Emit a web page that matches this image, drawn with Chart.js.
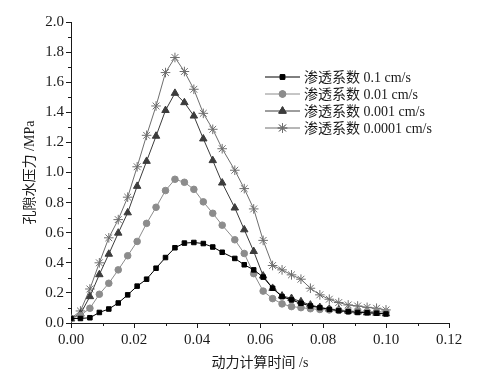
<!DOCTYPE html>
<html>
<head>
<meta charset="utf-8">
<script src="https://cdn.jsdelivr.net/npm/chart.js@4/dist/chart.umd.min.js"></script>
<style>
  html, body { margin: 0; padding: 0; background: #fff; }
  #wrap { width: 486px; height: 377px; }
</style>
</head>
<body>
<div id="wrap"><canvas id="pore"></canvas></div>
<script>
// time steps (s)
var times = [0, 0.003, 0.006, 0.009, 0.012, 0.015, 0.018, 0.021, 0.024, 0.027,
  0.030, 0.033, 0.036, 0.039, 0.042, 0.045, 0.048, 0.052, 0.055, 0.058,
  0.061, 0.064, 0.067, 0.070, 0.073, 0.076, 0.079, 0.082, 0.085, 0.088,
  0.091, 0.094, 0.097, 0.100];

// pore pressure (MPa) for each permeability
var k01 = [0.03, 0.03, 0.035, 0.07, 0.093, 0.133, 0.187, 0.245, 0.291, 0.364,
  0.435, 0.50, 0.531, 0.535, 0.528, 0.505, 0.47, 0.429, 0.387, 0.353,
  0.305, 0.231, 0.175, 0.153, 0.131, 0.113, 0.102, 0.091, 0.082, 0.075,
  0.07, 0.068, 0.065, 0.06];
var k001 = [0.03, 0.05, 0.098, 0.191, 0.264, 0.353, 0.447, 0.542, 0.662, 0.769,
  0.88, 0.955, 0.935, 0.888, 0.805, 0.729, 0.65, 0.553, 0.462, 0.328,
  0.212, 0.162, 0.127, 0.109, 0.102, 0.095, 0.09, 0.087, 0.084, 0.08,
  0.078, 0.076, 0.075, 0.072];
var k0001 = [0.03, 0.06, 0.176, 0.322, 0.458, 0.598, 0.733, 0.909, 1.075, 1.242,
  1.413, 1.527, 1.465, 1.376, 1.224, 1.08, 0.931, 0.765, 0.62, 0.476,
  0.313, 0.231, 0.18, 0.164, 0.142, 0.12, 0.104, 0.093, 0.088, 0.08,
  0.074, 0.068, 0.066, 0.062];
var k00001 = [0.03, 0.08, 0.226, 0.40, 0.566, 0.687, 0.836, 1.038, 1.247, 1.442,
  1.664, 1.764, 1.671, 1.553, 1.393, 1.287, 1.158, 1.015, 0.893, 0.758,
  0.549, 0.382, 0.353, 0.32, 0.291, 0.231, 0.187, 0.158, 0.136, 0.12,
  0.113, 0.104, 0.098, 0.087];

var names = ['渗透系数 0.1 cm/s', '渗透系数 0.01 cm/s', '渗透系数 0.001 cm/s', '渗透系数 0.0001 cm/s'];

var serif = '"Liberation Serif", "Noto Sans CJK SC", serif';
var ink = '#1a1a1a';

function pts(vals) {
  return times.map(function (t, i) { return { x: t, y: vals[i] }; });
}

function series(label, vals, color, style, r) {
  return {
    label: label,
    data: pts(vals),
    borderColor: color,
    backgroundColor: color,
    borderWidth: 1,
    pointStyle: style,
    pointRadius: r,
    pointBorderWidth: 1,
    pointBorderColor: color,
    pointBackgroundColor: color,
    tension: 0
  };
}

// minor ticks + legend inside the plot
var extras = {
  id: 'extras',
  afterDraw: function (chart) {
    var ctx = chart.ctx, a = chart.chartArea;
    var xs = chart.scales.x, ys = chart.scales.y;
    ctx.save();
    ctx.strokeStyle = ink;
    ctx.lineWidth = 1;
    ctx.beginPath();
    for (var v = 0.01; v < 0.12; v += 0.02) {
      var px = Math.round(xs.getPixelForValue(v)) + 0.5;
      ctx.moveTo(px, a.bottom);
      ctx.lineTo(px, a.bottom + 3);
    }
    for (var w = 0.1; w < 2.0; w += 0.2) {
      var py = Math.round(ys.getPixelForValue(w)) + 0.5;
      ctx.moveTo(a.left, py);
      ctx.lineTo(a.left - 3, py);
    }
    ctx.stroke();

    // legend
    var lx = a.left + 194, ly = a.top + 55, gap = 17;
    ctx.font = '14px ' + serif;
    ctx.textBaseline = 'middle';
    ctx.fillStyle = ink;
    chart.data.datasets.forEach(function (ds, i) {
      var y = ly + i * gap;
      ctx.strokeStyle = ds.borderColor;
      ctx.beginPath();
      ctx.moveTo(lx, y);
      ctx.lineTo(lx + 35, y);
      ctx.stroke();
      Chart.helpers.drawPoint(ctx, {
        pointStyle: ds.pointStyle,
        radius: ds.pointRadius,
        borderWidth: 1,
        rotation: 0
      }, lx + 17.5, y);
      ctx.fillStyle = ds.borderColor;
      ctx.fill();
      ctx.stroke();
      ctx.fillStyle = ink;
      ctx.fillText(ds.label, lx + 39, y + 1);
    });
    ctx.restore();
  }
};

new Chart(document.getElementById('pore'), {
  type: 'line',
  data: {
    datasets: [
      series(names[0], k01, '#000000', 'rect', 3.2),
      series(names[1], k001, '#8c8c8c', 'circle', 3.3),
      series(names[2], k0001, '#3c3c3c', 'triangle', 4.3),
      series(names[3], k00001, '#6e6e6e', 'star', 4.8)
    ]
  },
  options: {
    responsive: true,
    maintainAspectRatio: false,
    animation: false,
    layout: { padding: { left: 0, right: 37, top: 22, bottom: 0 } },
    plugins: { legend: { display: false }, tooltip: { enabled: false } },
    scales: {
      x: {
        type: 'linear',
        min: 0, max: 0.12,
        afterFit: function (s) { s.height = 54; },
        ticks: {
          stepSize: 0.02,
          color: ink,
          padding: 3,
          font: { family: serif, size: 15 },
          callback: function (v) { return v.toFixed(2); }
        },
        grid: { drawOnChartArea: false, tickLength: 5, tickColor: ink },
        border: { color: ink, width: 1 },
        title: {
          display: true,
          text: '动力计算时间 /s',
          color: ink,
          font: { family: serif, size: 14 },
          padding: { top: 0, bottom: 5 }
        }
      },
      y: {
        min: 0, max: 2.0,
        afterFit: function (s) { s.width = 71; },
        ticks: {
          stepSize: 0.2,
          color: ink,
          padding: 2,
          font: { family: serif, size: 15 },
          callback: function (v) { return v.toFixed(1); }
        },
        grid: { drawOnChartArea: false, tickLength: 5, tickColor: ink },
        border: { color: ink, width: 1 },
        title: {
          display: true,
          text: '孔隙水压力 /MPa',
          color: ink,
          font: { family: serif, size: 14 },
          padding: { top: 22, bottom: 0 }
        }
      }
    }
  },
  plugins: [extras]
});
</script>
</body>
</html>
